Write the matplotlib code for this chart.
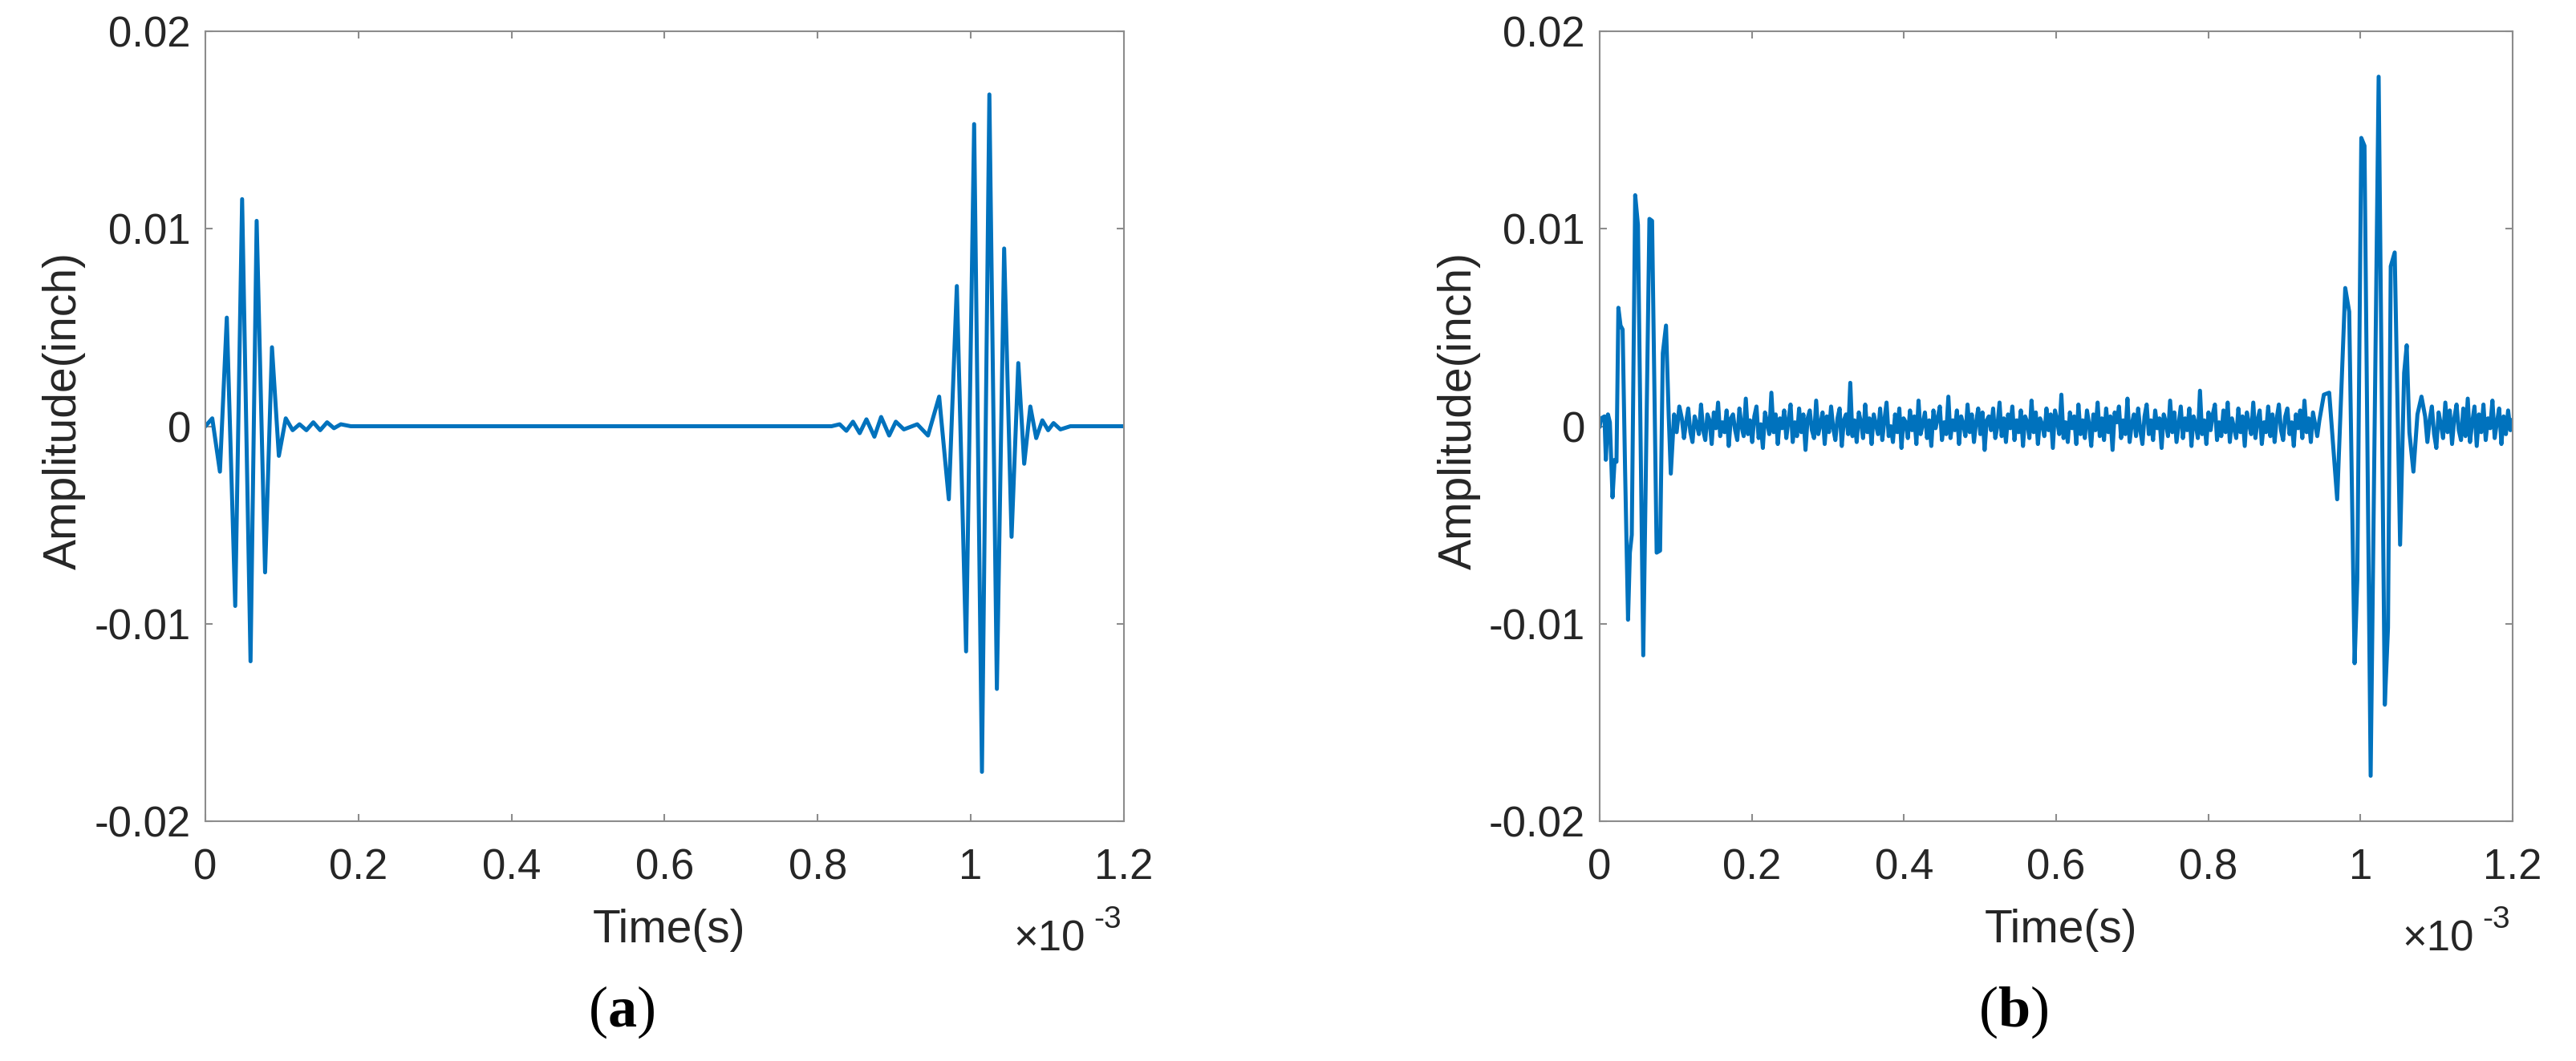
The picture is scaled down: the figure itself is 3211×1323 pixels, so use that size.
import numpy as np
import matplotlib
matplotlib.use("Agg")
import matplotlib.pyplot as plt

plt.rcParams['font.family'] = ['Liberation Sans', 'DejaVu Sans']
plt.rcParams['mathtext.fontset'] = 'custom'
plt.rcParams['mathtext.rm'] = 'Liberation Serif'
plt.rcParams['mathtext.bf'] = 'Liberation Serif:bold'

# ---------------- data (time in ms, amplitude in inch) ----------------
# Panel (a): clean signal, read extrema
a_time = [0.000, 0.009, 0.019, 0.028, 0.039, 0.048, 0.059, 0.067, 0.078, 0.087,
          0.096, 0.105, 0.114, 0.123, 0.132, 0.141, 0.150, 0.159, 0.168, 0.177,
          0.190, 0.818, 0.8286, 0.8374, 0.846, 0.8548, 0.8636, 0.874, 0.8828,
          0.8933, 0.902, 0.9125, 0.930, 0.944, 0.9586, 0.9712, 0.9817, 0.9938,
          1.0043, 1.0145, 1.0242, 1.034, 1.0435, 1.0532, 1.062, 1.0697, 1.0777,
          1.0854, 1.0934, 1.101, 1.108, 1.117, 1.130, 1.200]
a_amp = [0.0, 0.0004, -0.0023, 0.0055, -0.0091, 0.0115, -0.0119, 0.0104, -0.0074, 0.0040,
         -0.0015, 0.0004, -0.0002, 0.0001, -0.0002, 0.0002, -0.0002, 0.0002, -0.0001, 0.0001,
         0.0, 0.0, 0.0001, -0.00023, 0.00023, -0.00035, 0.00035, -0.00053, 0.00047,
         -0.00047, 0.00023, -0.00016, 0.0001, -0.00047, 0.0015, -0.0037, 0.0071, -0.0114,
         0.0153, -0.0175, 0.0168, -0.0133, 0.0090, -0.0056, 0.0032, -0.0019, 0.0010,
         -0.0006, 0.0003, -0.0002, 0.00016, -0.00016, 0.0, 0.0]

# Panel (b): noisy signal
b_pkt1_time = [0.000, 0.002, 0.0063, 0.0081, 0.0109, 0.0134, 0.0169, 0.0197, 0.0221,
               0.0246, 0.0274, 0.0302, 0.0334, 0.0373, 0.0397, 0.0422, 0.0467, 0.0503,
               0.0573, 0.0654, 0.0689, 0.0749, 0.0794, 0.0830, 0.0872, 0.0907, 0.0935,
               0.0978, 0.1012, 0.1047]
b_pkt1_amp = [0.0, 0.0004, 0.0005, -0.0017, 0.0006, 0.0002, -0.0036, -0.0017, -0.0018,
              0.0060, 0.0051, 0.0049, -0.0022, -0.0098, -0.0064, -0.0055, 0.0117, 0.0102,
              -0.0116, 0.0105, 0.0104, -0.0064, -0.0063, 0.0037, 0.0051, 0.0006, -0.0024,
              0.0006, -0.0003, 0.0010]

# noise between the packets, in units of 1e-4 inch
b_noise_mid = [
    4, -6, 2, 9, -3, -8, 5, 1, -4, 11, -2, -7, 6, 3, -9, 7, -1, 12, -5, 2,
    -3, 8, -10, 4, 6, -2, -7, 9, 0, -5, 14, -4, 3, -8, 5, 10, -6, 1, -11, 7,
    2, -4, 17, -3, 6, -9, 4, -1, 8, -6, 3, 11, -8, 2, -5, 9, -3, 6, -12, 4,
    8, -2, -6, 13, -4, 1, 7, -9, 5, -3, 10, -1, -7, 4, 9, -10, 3, 6, -4, 22,
    -5, 3, -8, 7, 2, -6, 11, -3, 4, -9, 6, 1, -4, 9, -7, 3, 12, -5, 0, -8,
    6, -3, 9, -11, 4, 2, -6, 8, -2, 5, -9, 13, -4, 1, 7, -6, 3, -10, 8, -1,
    4, 10, -7, 2, -4, 15, -6, 3, -2, 8, -9, 5, 1, -5, 11, -3, 6, -8, 2, 9,
    -4, 7, -12, 3, 5, -2, 9, -6, 0, 12, -5, 4, -8, 6, -1, 10, -7, 3, -3, 8,
    -10, 5, 2, -6, 13, -3, 7, -9, 4, 1, -5, 9, -2, 6, -11, 8, 3, -4, 16, -6,
    2, -8, 7, -1, 5, -9, 11, -4, 3, -6, 8, 1, -10, 6, -2, 12, -5, 4, -7, 9,
    -3, 5, -12, 7, 2, 10, -6, 3, -4, 14, -8, 1, 6, -5, 9, -2, -9, 5, 11, -4,
    3, -7, 8, -1, 4, -11, 6, 2, -5, 13, -3, 7, -8, 1, 10, -6, 4, -2, 9, -10,
    5, 1, -6, 18, -4, 3, -9, 7, -2, 6, 11, -7, 2, -5, 8, -3, 12, -8, 4, -1,
    -6, 9, -3, 5, -10, 7, 1, -4, 12, -6, 3, 8, -9, 2, -3, 10, -5, 6, -8, 4,
    11, -2, -7, 5, 9, -4, 2, -10, 6, -1, 8, -6, 13, -3, 4, -8, 7, 1, -5, 3]
b_noise_mid_span = (0.108, 0.946)

b_pkt2_time = [0.9519, 0.9589, 0.9694, 0.9800, 0.9852, 0.9923, 0.9958, 1.0011, 1.0053,
               1.0134, 1.0239, 1.0320, 1.0362, 1.0398, 1.0450, 1.0521, 1.0574, 1.0608,
               1.0643, 1.0696, 1.0749, 1.0802]
b_pkt2_amp = [0.0016, 0.0017, -0.0037, 0.0070, 0.0058, -0.0120, -0.0078, 0.0146, 0.0142,
              -0.0177, 0.0177, -0.0141, -0.0102, 0.0081, 0.0088, -0.0060, 0.0027, 0.0041,
              -0.0003, -0.0023, 0.0006, 0.0015]

b_noise_end = [5, -8, 3, 10, -4, -11, 7, 1, -6, 12, -3, 8, -9, 4, 11, -2, -7, 9, -5, 14,
               -8, 2, 10, -10, 6, -3, 11, -7, 4, -1, 13, -6, 2, 9, -9, 5, -4, 8, -2, 3]
b_noise_end_span = (1.085, 1.200)

x_ticks = [0, 0.2, 0.4, 0.6, 0.8, 1.0, 1.2]
x_ticklabels = ['0', '0.2', '0.4', '0.6', '0.8', '1', '1.2']
y_ticks = [-0.02, -0.01, 0, 0.01, 0.02]
y_ticklabels = ['-0.02', '-0.01', '0', '0.01', '0.02']

# ---------------- assemble panel (b) ----------------
nm = np.linspace(b_noise_mid_span[0], b_noise_mid_span[1], len(b_noise_mid))
ne = np.linspace(b_noise_end_span[0], b_noise_end_span[1], len(b_noise_end))
b_time = np.concatenate([b_pkt1_time, nm, b_pkt2_time, ne])
b_amp = np.concatenate([b_pkt1_amp, np.array(b_noise_mid) * 1e-4, b_pkt2_amp,
                        np.array(b_noise_end) * 1e-4])

# ---------------- figure ----------------
W, H = 3212, 1323
fig = plt.figure(figsize=(W / 100, H / 100), dpi=100)

line_color = '#0072BD'
text_color = '#262626'
axis_color = '#8c8c8c'

def px_axes(l, r, t, b):
    return [l / W, 1 - b / H, (r - l) / W, (b - t) / H]

panels = [
    dict(rect=px_axes(256, 1401, 39, 1024), t=a_time, y=a_amp, label='(a)', lx=775),
    dict(rect=px_axes(1994, 3132, 39, 1024), t=b_time, y=b_amp, label='(b)', lx=2510),
]

for p in panels:
    ax = fig.add_axes(p['rect'])
    ax.plot(p['t'], p['y'], color=line_color, lw=3.6)
    ax.set_xlim(0, 1.2)
    ax.set_ylim(-0.02, 0.02)
    ax.set_xticks(x_ticks)
    ax.set_xticklabels(x_ticklabels)
    ax.set_yticks(y_ticks)
    ax.set_yticklabels(y_ticklabels)
    for s in ax.spines.values():
        s.set_color(axis_color)
        s.set_linewidth(1.5)
    ax.tick_params(direction='in', length=6.5, width=1.5, color=axis_color,
                   top=True, right=True, labelsize=38, labelcolor=text_color)
    ax.tick_params(axis='y', pad=13)
    ax.tick_params(axis='x', pad=24)
    ax.set_xlabel('Time(s)', fontsize=41, color=text_color, va='baseline')
    ax.xaxis.set_label_coords(0.505, -0.1533)
    ax.set_ylabel('Amplitude(inch)', fontsize=41, color=text_color)
    ax.yaxis.set_label_coords(-0.130, 0.52)
    # exponent label x10^-3
    r = p['rect']
    right_px = (r[0] + r[2]) * W
    fig.text((right_px - 138) / W, 1 - 1185 / H, '\u00d710', fontsize=38,
             color=text_color, ha='left', va='baseline')
    fig.text((right_px - 3) / W, 1 - 1157 / H, '-3', fontsize=28,
             color=text_color, ha='right', va='baseline')
    fig.text(p['lx'] / W, 1 - 1280 / H, '(' + r'$\mathbf{' + p['label'][1] + '}$' + ')',
             fontsize=52, family='Liberation Serif', color='black',
             ha='center', va='baseline')

fig.savefig('out.png', dpi=100, facecolor='white')
